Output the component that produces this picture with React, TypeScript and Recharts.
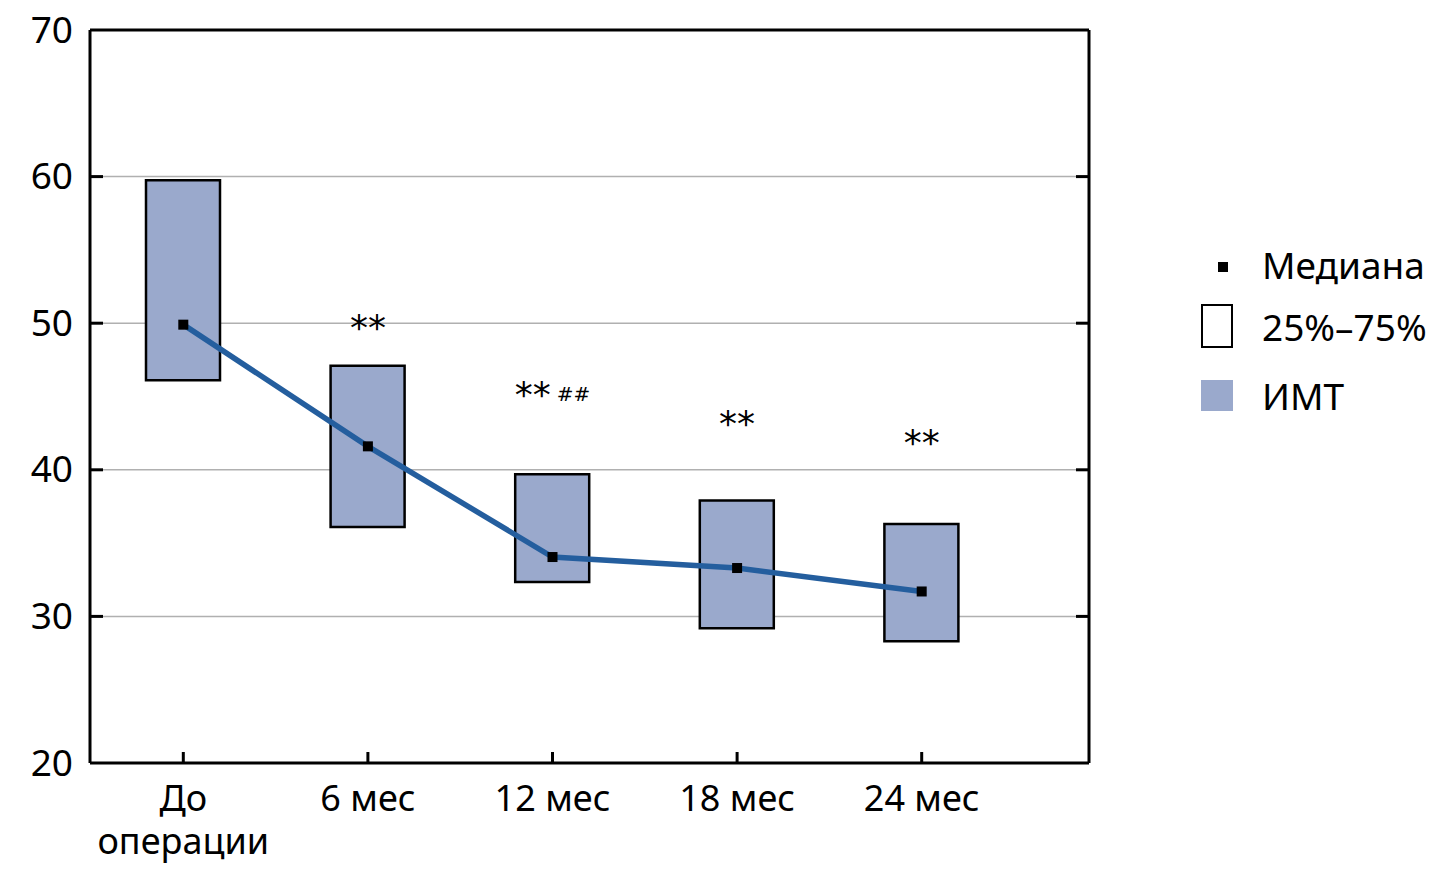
import React from "react";
import {
    ComposedChart,
    Bar,
    Line,
    XAxis,
    YAxis,
    CartesianGrid,
    Legend,
} from "recharts";

const categories = ["До\nоперации", "6 мес", "12 мес", "18 мес", "24 мес"];
const q1 = [46.1, 36.1, 32.35, 29.2, 28.3];
const q3 = [59.75, 47.1, 39.7, 37.9, 36.3];
const median = [49.9, 41.6, 34.05, 33.3, 31.7];
const marks = ["", "**", "**|##", "**", "**"];
const markY = [null, 49.9, 45.3, 43.3, 42.0];
const yTicks = [20, 30, 40, 50, 60, 70];

const legendItems = ["Медиана", "25%–75%", "ИМТ"];

const FONT = "'Noto Sans', sans-serif";
const BOX_FILL = "#9aa9cc";
const LINE_BLUE = "#245e9e";

const data = categories.map((name, i) => ({
    name,
    box: [q1[i], q3[i]],
    median: median[i],
    markY: markY[i],
    mark: marks[i],
}));

const YTick = (props: any) => {
    const { x, y, payload } = props;
    const v = payload.value;
    return (
        <g>
            <text x={x} y={y - 2} textAnchor="end" dominantBaseline="central"
                fontFamily={FONT} fontSize={37} fill="#000">
                {v}
            </text>
            {v > 20 && v < 70 && (
                <line x1={x + 17} x2={x + 30} y1={y} y2={y} stroke="#000" strokeWidth={3} />
            )}
        </g>
    );
};

const RightTick = (props: any) => {
    const { x, y, payload } = props;
    const v = payload.value;
    if (v <= 20 || v >= 70) return <g />;
    return <line x1={x} x2={x - 13} y1={y} y2={y} stroke="#000" strokeWidth={3} />;
};

const XTick = (props: any) => {
    const { x, y, payload } = props;
    const lines = String(payload.value).split("\n");
    return (
        <g>
            <line x1={x} x2={x} y1={y} y2={y - 11} stroke="#000" strokeWidth={3} />
            <text x={x} y={y + 48} textAnchor="middle" fontFamily={FONT} fontSize={36} fill="#000">
                {lines.map((t, i) => (
                    <tspan key={i} x={x} dy={i === 0 ? 0 : 43}>{t}</tspan>
                ))}
            </text>
        </g>
    );
};

const MedianDot = (props: any) => {
    const { cx, cy, index } = props;
    if (cx == null || cy == null) return <g key={index} />;
    return <rect key={index} x={cx - 5} y={cy - 5} width={10} height={10} fill="#000" />;
};

const MarkDot = (props: any) => {
    const { cx, cy, index, payload } = props;
    if (cx == null || cy == null || !payload.mark) return <g key={index} />;
    const [stars, hashes] = String(payload.mark).split("|");
    return (
        <text key={index} x={cx} y={cy + 15} textAnchor="middle" fontFamily="'DejaVu Sans', sans-serif"
            fill="#000">
            <tspan fontSize={36}>{stars}</tspan>
            {hashes && <tspan fontSize={20} dx={6} dy={-6}>{hashes}</tspan>}
        </text>
    );
};

const LegendContent = () => (
    <div style={{ position: "relative", width: 240, height: 180, fontFamily: FONT, fontSize: 37 }}>
        <div style={{ position: "absolute", left: 18, top: 22, width: 10, height: 10, background: "#000" }} />
        <div style={{ position: "absolute", left: 1, top: 64, width: 32, height: 44, border: "2.5px solid #000", boxSizing: "border-box" }} />
        <div style={{ position: "absolute", left: 1, top: 140, width: 32, height: 31, background: BOX_FILL }} />
        {legendItems.map((t, i) => (
            <div key={t} style={{ position: "absolute", left: 62, top: [0, 62, 131][i], lineHeight: "50px", whiteSpace: "nowrap" }}>
                {t}
            </div>
        ))}
    </div>
);

export default function App() {
    return (
        <div style={{ position: "absolute", left: 0, top: 0, background: "#fff" }}>
            <ComposedChart width={1438} height={870} data={data}
                margin={{ top: 29, right: 339, bottom: 0, left: 0 }}>
                <CartesianGrid vertical={false} stroke="#b0b0b0" strokeWidth={1.5} />
                <XAxis dataKey="name" xAxisId="top" orientation="top" height={1}
                    tick={false} tickLine={false} axisLine={{ stroke: "#000", strokeWidth: 3 }}
                    padding={{ left: 1, right: 75 }} />
                <XAxis dataKey="name" height={107} tickSize={0} tickMargin={0} tickLine={false}
                    tick={<XTick />} axisLine={{ stroke: "#000", strokeWidth: 3 }}
                    padding={{ left: 1, right: 75 }} interval={0} />
                <YAxis domain={[20, 70]} ticks={yTicks} width={90} tickSize={0} tickMargin={17}
                    tickLine={false} tick={<YTick />} axisLine={{ stroke: "#000", strokeWidth: 3 }}
                    allowDataOverflow />
                <YAxis yAxisId="right" orientation="right" domain={[20, 70]} ticks={yTicks}
                    width={10} tickSize={0} tickMargin={0} tickLine={false} tick={<RightTick />}
                    axisLine={{ stroke: "#000", strokeWidth: 3 }} allowDataOverflow />
                <Legend layout="vertical" align="center" verticalAlign="middle" content={<LegendContent />}
                    wrapperStyle={{ position: "absolute", left: 1200, top: 240, width: 240, height: 180 }} />
                <Bar dataKey="box" barSize={74} fill={BOX_FILL} stroke="#000" strokeWidth={2.5}
                    isAnimationActive={false} />
                <Line dataKey="median" stroke="none" dot={<MedianDot />} activeDot={false}
                    isAnimationActive={false} legendType="none" />
                <Line dataKey="median" stroke={LINE_BLUE} strokeWidth={5.5} dot={false} activeDot={false}
                    type="linear" isAnimationActive={false} />
                <Line dataKey="markY" stroke="none" dot={<MarkDot />} activeDot={false}
                    isAnimationActive={false} connectNulls />
            </ComposedChart>
        </div>
    );
}
